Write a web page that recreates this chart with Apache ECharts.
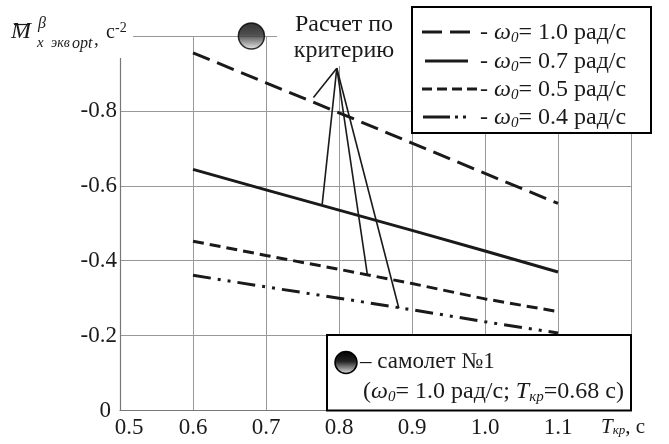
<!DOCTYPE html>
<html>
<head>
<meta charset="utf-8">
<script src="https://cdn.jsdelivr.net/npm/echarts@6/dist/echarts.min.js"></script>
<style>
html,body{margin:0;padding:0;background:#fff;}
#chart{width:669px;height:444px;}
</style>
</head>
<body>
<div id="chart"></div>
<script>
// ---- data ----
const tkp = [0.6, 0.7, 0.8, 0.9, 1.0, 1.1];
const w10 = [-0.955, -0.875, -0.795, -0.714, -0.633, -0.553];
const w07 = [-0.644, -0.589, -0.535, -0.481, -0.426, -0.370];
const w05 = [-0.452, -0.414, -0.377, -0.339, -0.298, -0.264];
const w04 = [-0.361, -0.330, -0.300, -0.269, -0.237, -0.207];
const seriesNames = ['ω0 = 1.0 рад/с', 'ω0 = 0.7 рад/с', 'ω0 = 0.5 рад/с', 'ω0 = 0.4 рад/с'];
const omegaLabels = ['1.0', '0.7', '0.5', '0.4'];
const plane = [0.68, -1.0];
const ptrApex = [0.797, -0.914];
const ptrEnds = [[0.765, -0.836], [0.777, -0.551], [0.839, -0.361], [0.882, -0.273]];
const xMin = 0.5, xMax = 1.2, xStep = 0.1;
const yMin = -1.0, yMax = 0, yStep = 0.2;

const FONT = "'Liberation Serif', 'Times New Roman', serif";
const INK = '#1a1a1a';
const dashes = [[18, 8], null, [11, 6], [18, 7, 3, 7, 3, 7]];
const legendDashes = [[20, 8], null, [10, 5], [27, 5, 3, 5, 3, 100]];

function pairs(ys) { return tkp.map((x, i) => [x, ys[i]]); }
const allY = [w10, w07, w05, w04];

const planeGrad = {
  type: 'linear', x: 0, y: 0, x2: 0, y2: 1,
  colorStops: [{offset: 0, color: '#000'}, {offset: 0.45, color: '#222'}, {offset: 1, color: '#e8e8e8'}]
};

const series = allY.map((ys, i) => ({
  name: seriesNames[i],
  type: 'line',
  data: pairs(ys),
  symbol: 'none',
  silent: true,
  z: 3,
  lineStyle: {color: INK, width: 3, type: dashes[i] || 'solid'}
}));

series.push({
  type: 'line',
  data: [],
  silent: true,
  markLine: {
    silent: true,
    symbol: ['none', 'none'],
    label: {show: false},
    lineStyle: {color: INK, width: 1.6, type: 'solid'},
    data: ptrEnds.map(e => [{coord: ptrApex}, {coord: e}])
  }
});

series.push({
  type: 'scatter',
  data: [plane],
  symbol: 'circle',
  symbolSize: 26,
  silent: true,
  z: 5,
  itemStyle: {color: planeGrad, borderColor: '#000', borderWidth: 1.5}
});

const chart = echarts.init(document.getElementById('chart'), null, {renderer: 'canvas'});

function f(size, italic) { return (italic ? 'italic ' : '') + size + 'px ' + FONT; }

const graphic = [
  {type: 'rect', z: 10, silent: true, shape: {x: 0, y: 0, width: 133, height: 58}, style: {fill: '#fff'}},
  {type: 'rect', z: 10, silent: true, shape: {x: 277, y: 0, width: 135, height: 66}, style: {fill: '#fff'}},
  {type: 'text', z: 12, x: 11, y: 32, style: {text: 'M', font: f(24, true), fill: INK, verticalAlign: 'middle'}},
  {type: 'line', z: 12, shape: {x1: 14, y1: 24.5, x2: 30, y2: 24.5}, style: {stroke: INK, lineWidth: 1.2}},
  {type: 'text', z: 12, x: 38, y: 24, style: {text: 'β', font: f(16, true), fill: INK, verticalAlign: 'middle'}},
  {type: 'text', z: 12, x: 37, y: 43, style: {text: 'x', font: f(15, true), fill: INK, verticalAlign: 'middle'}},
  {type: 'text', z: 12, x: 51, y: 43, style: {text: 'экв', font: f(14, true), fill: INK, verticalAlign: 'middle'}},
  {type: 'text', z: 12, x: 72, y: 44, style: {text: 'opt', font: f(16, true), fill: INK, verticalAlign: 'middle'}},
  {type: 'text', z: 12, x: 94, y: 40, style: {text: ',', font: f(19), fill: INK, verticalAlign: 'middle'}},
  {type: 'text', z: 12, x: 106, y: 33, style: {text: 'с', font: f(20), fill: INK, verticalAlign: 'middle'}},
  {type: 'text', z: 12, x: 115, y: 28, style: {text: '-2', font: f(14), fill: INK, verticalAlign: 'middle'}},
  {type: 'text', z: 12, x: 344, y: 12, style: {text: 'Расчет по\nкритерию', font: f(24), lineHeight: 26, fill: INK, align: 'center', verticalAlign: 'top'}},
  {type: 'rect', z: 10, silent: true, shape: {x: 412, y: 7, width: 239, height: 126}, style: {fill: '#fff', stroke: '#000', lineWidth: 2}},
  {type: 'rect', z: 10, silent: true, shape: {x: 327, y: 335, width: 304, height: 75.5}, style: {fill: '#fff', stroke: '#000', lineWidth: 2}},
  {type: 'circle', z: 12, shape: {cx: 346, cy: 362.5, r: 11}, style: {fill: planeGrad, stroke: '#000', lineWidth: 1.5}},
  {type: 'text', z: 12, x: 360, y: 362, style: {text: '– самолет №1', font: f(23), fill: INK, verticalAlign: 'middle'}},
  {type: 'text', z: 12, x: 363, y: 392, style: {
    text: '{n|(}{w|ω}{s|0}{n|= 1.0 рад/с; }{w|T}{s|кр}{n|=0.68 с)}',
    verticalAlign: 'middle',
    rich: {
      n: {font: f(24), fill: INK, lineHeight: 26, verticalAlign: 'middle'},
      w: {font: f(24, true), fill: INK, lineHeight: 26, verticalAlign: 'middle'},
      s: {font: f(15, true), fill: INK, lineHeight: 15, verticalAlign: 'bottom'}
    }
  }}
];

const legendRows = [32, 61, 89, 117];
const legendX = [[422, 473], [425, 468], [422, 477], [423, 468]];
omegaLabels.forEach((lab, i) => {
  const st = {stroke: INK, lineWidth: 3};
  if (legendDashes[i]) st.lineDash = legendDashes[i];
  graphic.push({type: 'line', z: 12, shape: {x1: legendX[i][0], y1: legendRows[i], x2: legendX[i][1], y2: legendRows[i]}, style: st});
  graphic.push({type: 'text', z: 12, x: 480, y: legendRows[i] + 1, style: {
    text: '{n|- }{w|ω}{s|0}{n|= ' + lab + ' рад/с}',
    verticalAlign: 'middle',
    rich: {
      n: {font: f(24), fill: INK, lineHeight: 26, verticalAlign: 'middle'},
      w: {font: f(24, true), fill: INK, lineHeight: 26, verticalAlign: 'middle'},
      s: {font: f(15, true), fill: INK, lineHeight: 15, verticalAlign: 'bottom'}
    }
  }});
});

chart.setOption({
  animation: false,
  backgroundColor: '#fff',
  grid: {left: 120, right: 38, top: 36, bottom: 33.5, containLabel: false},
  xAxis: {
    type: 'value', min: xMin, max: xMax, interval: xStep,
    axisLine: {show: true, onZero: false, lineStyle: {color: '#777', width: 1.2}},
    axisTick: {show: false},
    splitLine: {show: true, lineStyle: {color: '#999', width: 1}},
    axisLabel: {
      margin: 6, color: INK, fontFamily: FONT, fontSize: 23,
      formatter: function (v) {
        if (Math.abs(v - xMax) < 1e-6) return '{i|T}{sub|кр}{n|, с}';
        if (Math.abs(v - xMin) < 1e-6) return '{first|' + v.toFixed(1) + '}';
        return v.toFixed(1);
      },
      rich: {
        first: {fontFamily: FONT, fontSize: 23, color: INK, padding: [0, 0, 0, 18]},
        i: {fontFamily: FONT, fontStyle: 'italic', fontSize: 21, color: INK},
        sub: {fontFamily: FONT, fontStyle: 'italic', fontSize: 13, color: INK, verticalAlign: 'bottom', padding: [8, 0, 0, 0]},
        n: {fontFamily: FONT, fontSize: 21, color: INK, padding: [0, 16, 0, 0]}
      }
    }
  },
  yAxis: {
    type: 'value', min: yMin, max: yMax, interval: yStep, inverse: true,
    axisLine: {show: true, onZero: false, lineStyle: {color: '#777', width: 1.2}},
    axisTick: {show: false},
    splitLine: {show: true, lineStyle: {color: '#999', width: 1}},
    axisLabel: {
      margin: 3, color: INK, fontFamily: FONT, fontSize: 23,
      formatter: function (v) {
        if (Math.abs(v - yMin) < 1e-6) return '';
        if (Math.abs(v) < 1e-6) return '{z|0}';
        return v.toFixed(1);
      },
      rich: {z: {fontFamily: FONT, fontSize: 23, color: INK, padding: [0, 6, 0, 0]}}
    }
  },
  series: series,
  graphic: graphic
});
</script>
</body>
</html>
